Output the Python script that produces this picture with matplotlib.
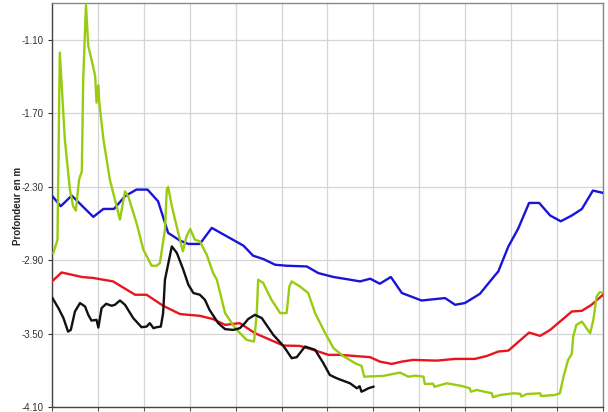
import matplotlib
matplotlib.use("Agg")
import matplotlib.pyplot as plt
import numpy as np

plt.rcParams['font.family'] = ['Liberation Sans', 'DejaVu Sans']

# Depth profiles (distance index along the transect, depth in m)
blue_x = [0.02, 0.19, 0.43, 0.90, 1.12, 1.35, 1.59, 1.84, 2.08, 2.31, 2.53, 2.79, 2.97, 3.22,
          3.48, 4.17, 4.38, 4.60, 4.86, 5.11, 5.55, 5.80, 6.13, 6.49, 6.71, 6.93, 7.14, 7.38,
          7.62, 8.05, 8.56, 8.78, 8.99, 9.32, 9.58, 9.72, 9.94, 10.15, 10.39, 10.61, 10.85,
          11.08, 11.32, 11.54, 11.78, 12.0]
blue_y = [-2.383, -2.460, -2.373, -2.547, -2.482, -2.482, -2.378, -2.324, -2.324, -2.419,
          -2.678, -2.741, -2.768, -2.768, -2.637, -2.782, -2.864, -2.891, -2.938, -2.946,
          -2.952, -3.006, -3.038, -3.060, -3.074, -3.052, -3.093, -3.038, -3.169, -3.230,
          -3.210, -3.265, -3.251, -3.175, -3.055, -2.992, -2.788, -2.645, -2.433, -2.433,
          -2.536, -2.583, -2.536, -2.482, -2.332, -2.351]

red_x = [0.0, 0.21, 0.65, 0.90, 1.33, 1.81, 2.06, 2.42, 2.79, 3.22, 3.51, 3.77, 4.09, 4.42,
         5.04, 5.40, 5.69, 6.02, 6.27, 6.93, 7.14, 7.40, 7.62, 7.87, 8.38, 8.78, 9.21, 9.47,
         9.72, 9.94, 10.19, 10.39, 10.63, 10.85, 11.32, 11.54, 11.75, 12.0]
red_y = [-3.074, -3.001, -3.038, -3.046, -3.074, -3.183, -3.183, -3.273, -3.341, -3.355,
         -3.382, -3.429, -3.415, -3.497, -3.598, -3.601, -3.633, -3.674, -3.674, -3.693,
         -3.729, -3.748, -3.729, -3.715, -3.721, -3.707, -3.707, -3.683, -3.647, -3.639,
         -3.557, -3.492, -3.519, -3.470, -3.320, -3.314, -3.265, -3.183]

green_x = [0.03, 0.12, 0.17, 0.28, 0.39, 0.46, 0.52, 0.59, 0.65, 0.66, 0.68, 0.74, 0.79,
           0.86, 0.94, 0.97, 1.01, 1.03, 1.12, 1.26, 1.48, 1.59, 1.66, 1.84, 1.99, 2.17,
           2.28, 2.35, 2.46, 2.50, 2.53, 2.61, 2.75, 2.85, 2.93, 3.01, 3.11, 3.22, 3.37,
           3.51, 3.59, 3.77, 3.99, 4.24, 4.40, 4.46, 4.49, 4.60, 4.78, 4.97, 5.11, 5.17,
           5.22, 5.40, 5.58, 5.73, 5.95, 6.13, 6.34, 6.60, 6.74, 6.80, 7.21, 7.58, 7.76,
           7.91, 8.09, 8.12, 8.30, 8.33, 8.60, 8.92, 9.10, 9.12, 9.25, 9.58, 9.60, 9.76,
           10.05, 10.20, 10.22, 10.34, 10.63, 10.65, 10.95, 11.06, 11.14, 11.24, 11.32,
           11.35, 11.42, 11.54, 11.64, 11.72, 11.79, 11.86, 11.93, 12.0]
green_y = [-2.842, -2.733, -1.205, -1.914, -2.324, -2.460, -2.496, -2.242, -2.174, -1.914,
           -1.423, -0.817, -1.151, -1.259, -1.396, -1.614, -1.472, -1.612, -1.914, -2.242,
           -2.569, -2.338, -2.378, -2.596, -2.815, -2.946, -2.946, -2.924, -2.651, -2.324,
           -2.302, -2.460, -2.678, -2.829, -2.706, -2.645, -2.733, -2.747, -2.856, -3.006,
           -3.060, -3.333, -3.456, -3.552, -3.565, -3.333, -3.060, -3.087, -3.224, -3.333,
           -3.333, -3.115, -3.074, -3.115, -3.169, -3.333, -3.497, -3.619, -3.683, -3.742,
           -3.764, -3.852, -3.846, -3.819, -3.852, -3.844, -3.852, -3.912, -3.910, -3.935,
           -3.906, -3.928, -3.947, -3.975, -3.961, -3.988, -4.020, -4.002, -3.988, -3.992,
           -4.015, -3.994, -3.988, -4.010, -4.002, -3.988, -3.852, -3.715, -3.666, -3.525,
           -3.429, -3.402, -3.456, -3.497, -3.388, -3.197, -3.161, -3.169]

black_x = [0.01, 0.14, 0.25, 0.35, 0.41, 0.50, 0.61, 0.72, 0.79, 0.86, 0.97, 1.01, 1.08,
           1.18, 1.30, 1.37, 1.48, 1.59, 1.77, 1.95, 2.06, 2.13, 2.21, 2.28, 2.37, 2.42,
           2.46, 2.61, 2.72, 2.86, 2.97, 3.08, 3.22, 3.33, 3.43, 3.62, 3.77, 3.95, 4.09,
           4.20, 4.27, 4.42, 4.57, 4.82, 5.04, 5.22, 5.33, 5.51, 5.73, 5.91, 6.05, 6.20,
           6.34, 6.49, 6.64, 6.70, 6.74, 6.82, 6.89, 7.00]
black_y = [-3.210, -3.292, -3.374, -3.484, -3.470, -3.320, -3.251, -3.279, -3.347, -3.394,
           -3.388, -3.451, -3.292, -3.257, -3.273, -3.265, -3.230, -3.265, -3.374, -3.448,
           -3.443, -3.415, -3.456, -3.448, -3.443, -3.333, -3.060, -2.788, -2.842, -2.979,
           -3.101, -3.169, -3.183, -3.224, -3.306, -3.415, -3.464, -3.470, -3.456, -3.415,
           -3.382, -3.347, -3.374, -3.511, -3.601, -3.701, -3.693, -3.606, -3.633, -3.742,
           -3.838, -3.865, -3.885, -3.906, -3.947, -3.930, -3.975, -3.961, -3.947, -3.934]

y_ticks = [-4.10, -3.50, -2.90, -2.30, -1.70, -1.10]
y_label = "Profondeur en m"

fig = plt.figure(figsize=(6.08, 4.12), dpi=100)
ax = fig.add_axes([0.0855, 0.0121, 0.9063, 0.9806])

lw = 1.7
ax.plot(red_x, red_y, color="#e8141e", lw=lw, zorder=3)
ax.plot(blue_x, blue_y, color="#1a14d8", lw=lw, zorder=3)
ax.plot(green_x, green_y, color="#99cc11", lw=lw, zorder=4)
ax.plot(black_x, black_y, color="#111111", lw=lw, zorder=5)

ax.set_xlim(0, 12)
ax.set_ylim(-4.10, -0.80)
ax.set_xticks(np.arange(0, 13, 1))
ax.set_xticklabels([])
ax.set_yticks(y_ticks)
ax.set_yticklabels([f"{v:.2f}" for v in y_ticks])
ax.tick_params(axis="y", labelsize=7, colors="#333333", length=3, width=0.8, pad=3)
ax.tick_params(axis="x", length=3, width=0.8, colors="#555555")
ax.grid(True, color="#d4d4d4", lw=0.9)
ax.set_axisbelow(True)

for side in ("left", "bottom"):
    ax.spines[side].set_color("#444444")
    ax.spines[side].set_linewidth(1.0)
for side in ("top", "right"):
    ax.spines[side].set_color("#888888")
    ax.spines[side].set_linewidth(1.0)

fig.text(18 / 608, 0.5, y_label, rotation=90, ha="center", va="center",
         fontsize=7, fontweight="bold", color="#222222")

fig.savefig("out.png", dpi=100)
